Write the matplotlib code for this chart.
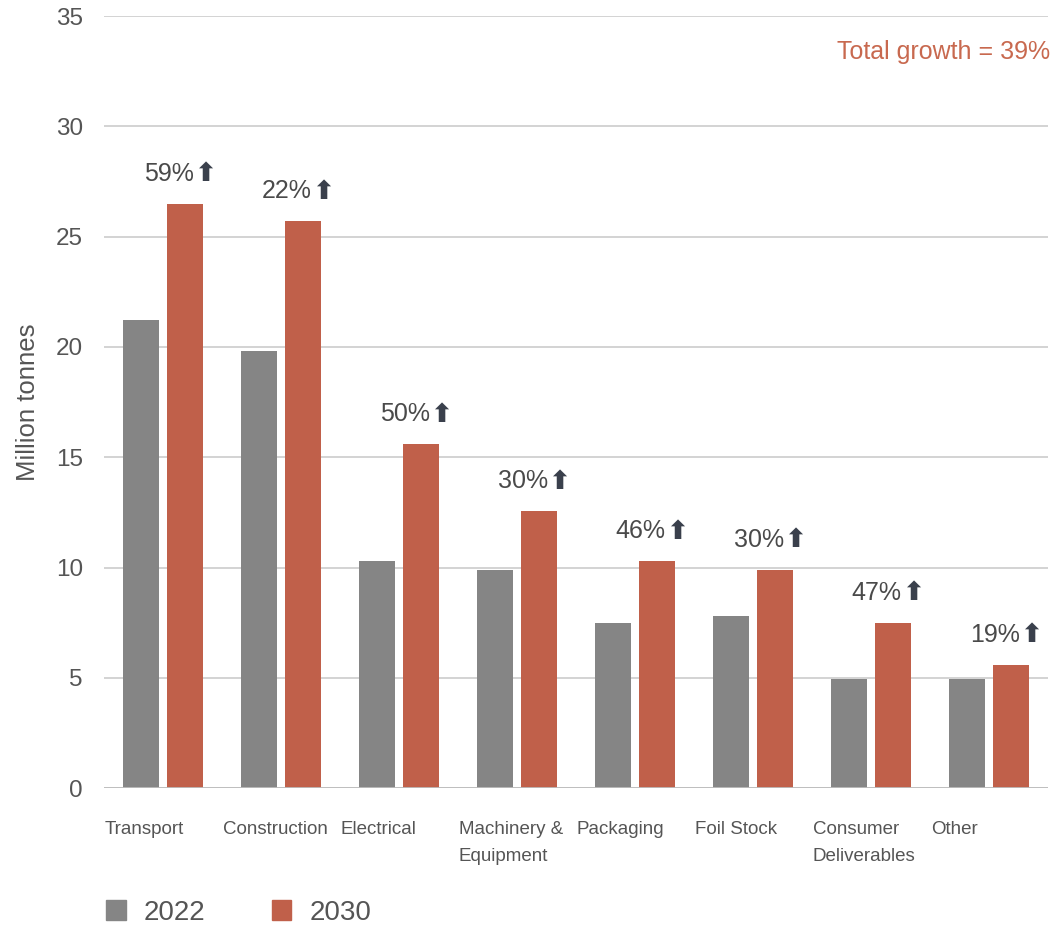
import matplotlib
matplotlib.use("Agg")
import matplotlib.pyplot as plt
import numpy as np
from matplotlib.patches import Patch

categories = ["Transport", "Construction", "Electrical", "Machinery &\nEquipment",
              "Packaging", "Foil Stock", "Consumer\nDeliverables", "Other"]
values_2022 = [21.2, 19.8, 10.3, 9.9, 7.5, 7.8, 4.95, 4.95]
values_2030 = [26.5, 25.7, 15.6, 12.55, 10.3, 9.9, 7.5, 5.6]
growth_labels = ["59%", "22%", "50%", "30%", "46%", "30%", "47%", "19%"]
series_names = ["2022", "2030"]
total_label = "Total growth = 39%"

GRAY = "#858585"
RED = "#c0604a"
TXT = "#555555"

plt.rcParams['font.family'] = ['Liberation Sans', 'DejaVu Sans']

fig = plt.figure(figsize=(10.53, 9.25), dpi=100)
ax = fig.add_axes([0.0985, 0.148, 0.8965, 0.8347])

x = np.arange(len(categories))
w = 0.305
off = 0.186
ax.bar(x - off, values_2022, width=w, color=GRAY, zorder=3)
ax.bar(x + off, values_2030, width=w, color=RED, zorder=3)

ax.set_xlim(-0.5, len(categories) - 0.5)
ax.set_ylim(0, 35)
ax.set_yticks(np.arange(0, 36, 5))
ax.yaxis.grid(True, color="#c8c8c8", linewidth=1.1, zorder=0)
ax.set_axisbelow(True)
for s in ax.spines.values():
    s.set_visible(False)
ax.axhline(0, color="#bdbdbd", linewidth=1.3, zorder=4)

ax.tick_params(axis='y', length=0, pad=15, labelsize=17.5, labelcolor=TXT)
ax.set_xticks(x - 0.49)
ax.set_xticklabels(categories, ha='left', fontsize=13.5, color=TXT, linespacing=1.7)
ax.tick_params(axis='x', length=0, pad=24)
ax.set_ylabel("Million tonnes", fontsize=18.5, color=TXT, labelpad=11)

for i, (v, g) in enumerate(zip(values_2030, growth_labels)):
    ax.annotate(g, xy=(x[i] + off, v), xytext=(6.5, 16.5), textcoords='offset points',
                ha='right', va='baseline', fontsize=18, color="#4a4a4a")
    ax.annotate("\u2B06", xy=(x[i] + off, v), xytext=(6.5, 16.0), textcoords='offset points',
                ha='left', va='baseline', fontsize=19, color="#3a404c",
                family=['DejaVu Sans'], fontweight='bold')

fig.text(0.997, 0.944, total_label, ha='right', va='center', fontsize=18, color="#c8694f")

handles = [Patch(color=GRAY), Patch(color=RED)]
fig.legend(handles, series_names, loc='lower left', bbox_to_anchor=(0.077, -0.028),
           ncol=2, frameon=False, fontsize=20, handlelength=0.7, handleheight=0.7,
           handletextpad=0.65, columnspacing=2.4, labelcolor=TXT)

fig.savefig("out.png", dpi=100)
